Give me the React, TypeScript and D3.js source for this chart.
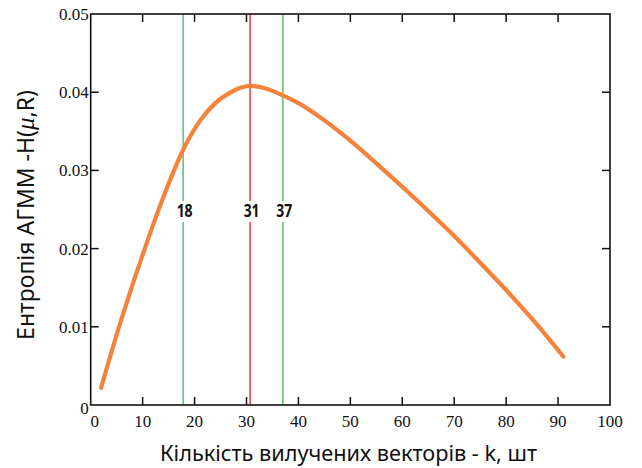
import React from "react";
import * as d3 from "d3";

const kValues = [2, 5, 10, 14, 18, 21, 24, 27, 29, 31, 33, 37, 40, 45, 50, 55, 60, 65, 70, 75, 80, 85, 91];
const entropy = [0.0022, 0.009, 0.0192, 0.0266, 0.0329, 0.0363, 0.0386, 0.04, 0.0406, 0.0408, 0.0406, 0.0396, 0.0386, 0.0364, 0.0338, 0.0309, 0.0279, 0.0248, 0.0216, 0.0182, 0.0147, 0.011, 0.0062];
const markerPositions = [17.8, 30.7, 37];
const markerLabels = ["18", "31", "37"];
const markerColors = ["#5cbf6e", "#e8383a", "#5cbf6e"];
const xTicks = [0, 10, 20, 30, 40, 50, 60, 70, 80, 90, 100];
const yTicks = [0, 0.01, 0.02, 0.03, 0.04, 0.05];
const xTitle = "Кількість вилучених векторів - k, шт";
const yTitleA = "Ентропія АГММ -H(";
const yTitleMu = "μ";
const yTitleB = ",R)";

const W = 642, H = 468;
const L = 90.7, R = 610, T = 14, B = 405;

export default function App() {
  const x = d3.scaleLinear().domain([0, 100]).range([L, R]);
  const y = d3.scaleLinear().domain([0, 0.05]).range([B, T]);
  const line = d3
    .line<number>()
    .x((_, i) => x(kValues[i]))
    .y((d) => y(d))
    .curve(d3.curveMonotoneX);
  const tickLen = 8;
  const serif = "'Liberation Serif', 'Times New Roman', serif";
  const sans = "'Noto Sans', 'Open Sans', sans-serif";
  return (
    <div style={{ position: "fixed", left: 0, top: 0, width: W, height: H, background: "#fff" }}>
      <svg width={W} height={H} style={{ display: "block" }}>
        <rect x={0} y={0} width={W} height={H} fill="#fff" />
        {markerPositions.map((m, i) => (
          <line key={"m" + i} x1={x(m)} x2={x(m)} y1={T} y2={B} stroke={markerColors[i]} strokeWidth={1.5} />
        ))}
        <path d={line(entropy) || ""} fill="none" stroke="#f5823a" strokeWidth={4.2} strokeLinecap="round" />
        {markerPositions.map((m, i) => (
          <g key={"ml" + i}>
            <rect x={x(m) - 8} y={201} width={19} height={21} fill="#fff" />
            <text x={x(m) + 1.5} y={216.5} textAnchor="middle" fontFamily={sans} fontWeight="bold" fontSize={17} fill="#111" textLength={16} lengthAdjust="spacingAndGlyphs">
              {markerLabels[i]}
            </text>
          </g>
        ))}
        <rect x={L} y={T} width={R - L} height={B - T} fill="none" stroke="#111" strokeWidth={1.6} />
        {xTicks.map((t) => (
          <g key={"xt" + t}>
            {t > 0 && t < 100 && (
              <>
                <line x1={x(t)} x2={x(t)} y1={B} y2={B - tickLen} stroke="#111" strokeWidth={1.5} />
                <line x1={x(t)} x2={x(t)} y1={T} y2={T + tickLen} stroke="#111" strokeWidth={1.5} />
              </>
            )}
            <text x={t === 0 ? x(t) + 4 : x(t)} y={427} textAnchor="middle" fontFamily={serif} fontSize={17} fill="#111">
              {t}
            </text>
          </g>
        ))}
        {yTicks.map((t) => (
          <g key={"yt" + t}>
            {t > 0 && t < 0.05 && (
              <>
                <line x1={L} x2={L + tickLen} y1={y(t)} y2={y(t)} stroke="#111" strokeWidth={1.5} />
                <line x1={R} x2={R - tickLen} y1={y(t)} y2={y(t)} stroke="#111" strokeWidth={1.5} />
              </>
            )}
            <text x={L - 2} y={t === 0 ? y(t) + 3 : y(t)} dy="0.35em" textAnchor="end" fontFamily={serif} fontSize={17} fill="#111">
              {t === 0 ? "0" : d3.format(".2f")(t)}
            </text>
          </g>
        ))}
        <text x={348.5} y={461} textAnchor="middle" fontFamily={sans} fontSize={21} fill="#111" textLength={377} lengthAdjust="spacingAndGlyphs">
          {xTitle}
        </text>
        <text transform={`translate(34,215) rotate(-90)`} textAnchor="middle" fontFamily={sans} fontSize={23} fill="#111">
          {yTitleA}
          <tspan fontStyle="italic" fontFamily={serif} fontSize={25}>{yTitleMu}</tspan>
          {yTitleB}
        </text>
      </svg>
    </div>
  );
}
